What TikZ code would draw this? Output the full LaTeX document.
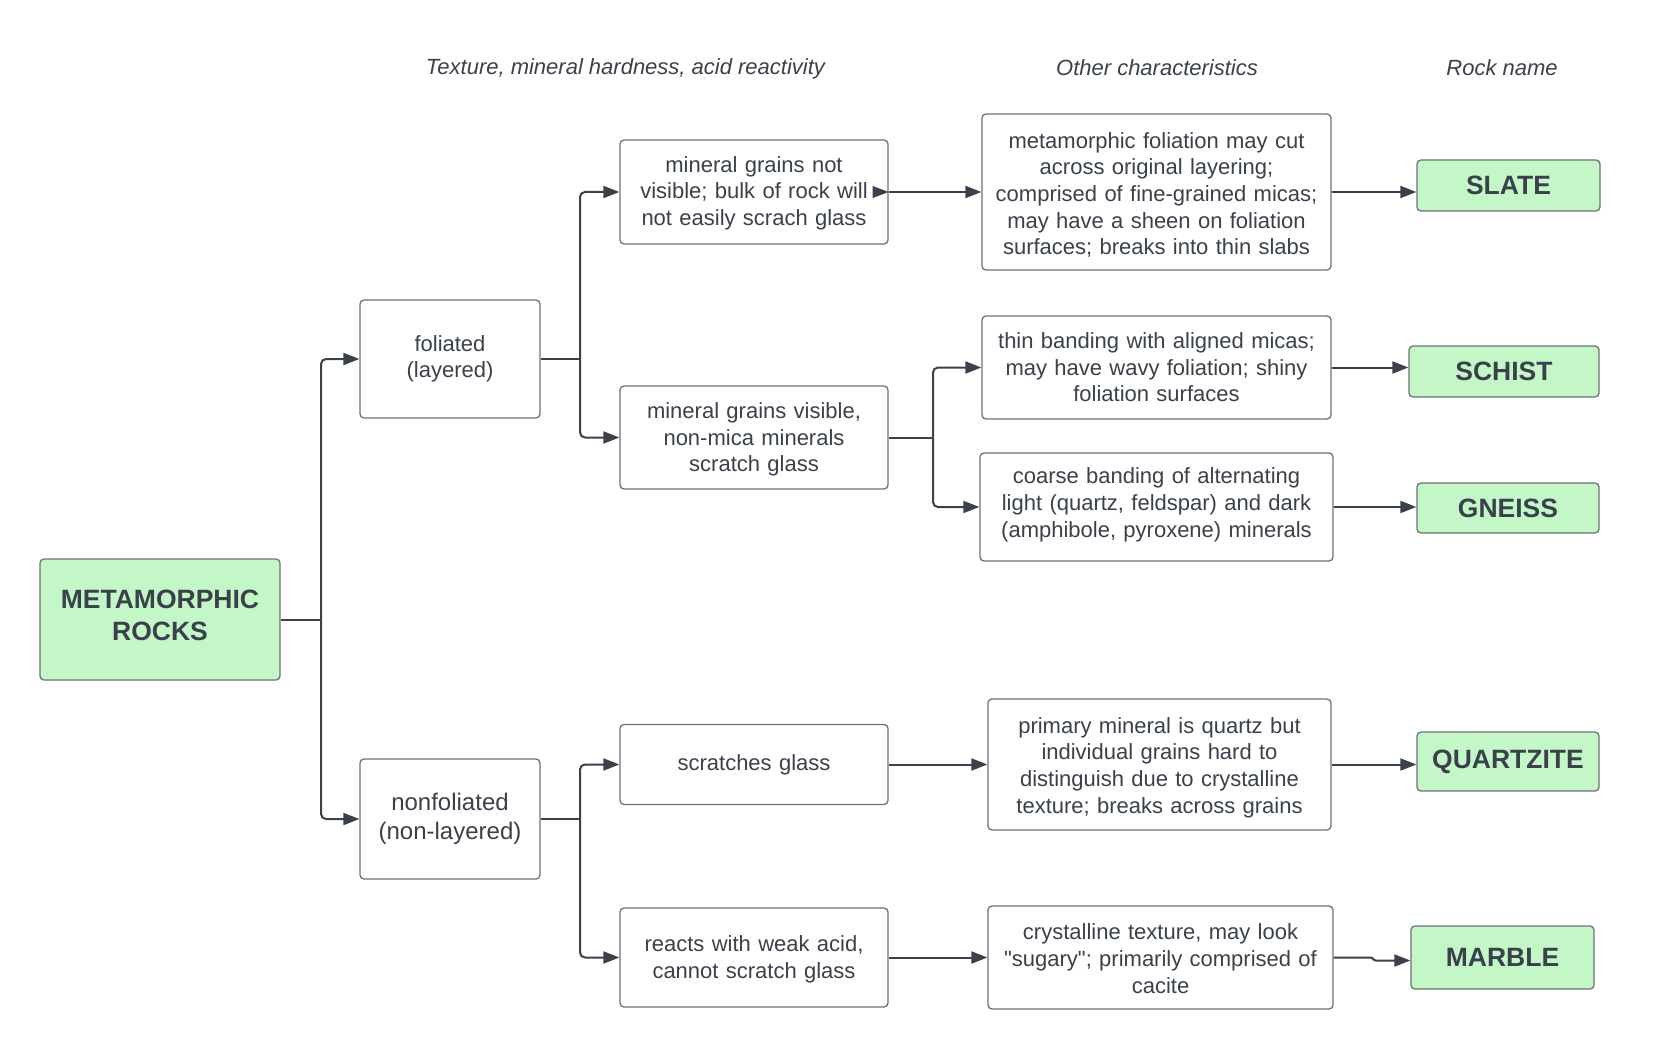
\documentclass[tikz,border=0pt]{standalone}
\usepackage{fontspec}
\setmainfont{Liberation Sans}[Ligatures=TeXOff]
\usetikzlibrary{arrows.meta,calc}
\definecolor{ink}{HTML}{3A414A}
\definecolor{edge}{HTML}{6E7277}
\definecolor{leaf}{HTML}{C3F7C8}
\tikzset{
  box/.style={draw=edge, line width=1.3pt, rounded corners=4pt, fill=white, inner sep=0pt,
    align=center, text=ink, font=\fontsize{22}{26.6}\selectfont},
  rockbox/.style={box, fill=leaf, font=\fontsize{26.5}{32}\selectfont\bfseries},
  tdown/.style={execute at begin node={\rule{0pt}{#1}}},
  tup/.style={execute at end node={\rule[-#1]{0pt}{#1}}},
  hdr/.style={text=ink, font=\fontsize{22}{26}\selectfont\itshape, inner sep=0pt},
  conn/.style={draw=ink, line width=2pt, rounded corners=5pt},
  arr/.style={conn, -{Triangle[length=16pt,width=12pt]}}
}
\begin{document}
\begin{tikzpicture}[x=1pt,y=-1pt]
\useasboundingbox (0,0) rectangle (1662,1051);
% headers
\node[hdr] (h1) at (625.5,68.5) {Texture, mineral hardness, acid reactivity};
\node[hdr] (h2) at (1157,67.5) {Other characteristics};
\node[hdr] (h3) at (1502,67.5) {Rock name};
% root
\node[rockbox, minimum width=240pt, minimum height=121pt, text width=230pt, tup=9pt] (meta) at (160,619.5) {METAMORPHIC\\ROCKS};
% level 1
\node[box, minimum width=180pt, minimum height=118pt, text width=170pt] (fol) at (450,359) {foliated\\(layered)};
\node[box, minimum width=180pt, minimum height=120pt, text width=170pt, font=\fontsize{24}{29}\selectfont] (nonfol) at (450,819) {nonfoliated\\(non-layered)};
% level 2
\node[box, minimum width=268pt, minimum height=104pt, text width=262pt, tdown=18pt] (b1) at (754,192) {mineral grains not\\visible; bulk of rock will\\not easily scrach glass};
\node[box, minimum width=268pt, minimum height=103pt, text width=262pt, tdown=20pt] (b2) at (754,437.5) {mineral grains visible,\\non-mica minerals\\scratch glass};
\node[box, minimum width=268pt, minimum height=80pt, text width=262pt] (b3) at (754,764.5) {scratches glass};
\node[box, minimum width=268pt, minimum height=99pt, text width=262pt, tdown=19pt] (b4) at (754,957.5) {reacts with weak acid,\\cannot scratch glass};
% level 3
\node[box, minimum width=349pt, minimum height=156pt, text width=343pt, tdown=22pt] (c1) at (1156.5,192) {metamorphic foliation may cut\\across original layering;\\comprised of fine-grained micas;\\may have a sheen on foliation\\surfaces; breaks into thin slabs};
\node[box, minimum width=349pt, minimum height=103pt, text width=343pt] (c2) at (1156.5,367.5) {thin banding with aligned micas;\\may have wavy foliation; shiny\\foliation surfaces};
\node[box, minimum width=353pt, minimum height=108pt, text width=347pt, tup=9pt] (c3) at (1156.5,507) {coarse banding of alternating\\light (quartz, feldspar) and dark\\(amphibole, pyroxene) minerals};
\node[box, minimum width=343pt, minimum height=131pt, text width=337pt, tdown=22pt] (c4) at (1159.5,764.5) {primary mineral is quartz but\\individual grains hard to\\distinguish due to crystalline\\texture; breaks across grains};
\node[box, minimum width=345pt, minimum height=103pt, text width=339pt, tdown=18pt] (c5) at (1160.5,957.5) {crystalline texture, may look\\"sugary"; primarily comprised of\\cacite};
% rock names
\node[rockbox, minimum width=183pt, minimum height=51pt, text width=175pt] (slate) at (1508.5,185.5) {SLATE};
\node[rockbox, minimum width=190pt, minimum height=51pt, text width=182pt] (schist) at (1504,371.5) {SCHIST};
\node[rockbox, minimum width=182pt, minimum height=50pt, text width=174pt] (gneiss) at (1508,508) {GNEISS};
\node[rockbox, minimum width=182pt, minimum height=59pt, text width=174pt] (quartz) at (1508,761.5) {QUARTZITE};
\node[rockbox, minimum width=183pt, minimum height=63pt, text width=175pt] (marble) at (1502.5,957.5) {MARBLE};
% junctions
\coordinate (j0) at (321,619.5);
\coordinate (j1) at (580,359);
\coordinate (j2) at (933,437.5);
\coordinate (j3) at (580,819);
% connectors
\draw[conn] (meta.east) -- (j0);
\draw[arr] (j0) |- (fol.west);
\draw[arr] (j0) |- (nonfol.west);
\draw[conn] (fol.east) -- (j1);
\draw[arr] (j1) |- (b1.west);
\draw[arr] (j1) |- (b2.west);
\draw[conn] (b2.east) -- (j2);
\draw[arr] (j2) |- (c2.west);
\draw[arr] (j2) |- (c3.west);
\draw[conn] (nonfol.east) -- (j3);
\draw[arr] (j3) |- (b3.west);
\draw[arr] (j3) |- (b4.west);
\draw[arr] (b1.east) -- (c1.west);
\fill[ink] (b1.east) -- ++(-16,-6) -- ++(0,12) -- cycle;
\draw[arr] (c1.east) -- (c1.east -| slate.west);
\draw[arr] (c2.east) -- (c2.east -| schist.west);
\draw[arr] (c3.east) -- (c3.east -| gneiss.west);
\draw[arr] (b3.east) -- (c4.west);
\draw[arr] (c4.east) -- (c4.east -| quartz.west);
\draw[arr] (b4.east) -- (c5.west);
\draw[arr, rounded corners=1pt] (c5.east) -- ++(38,0) -- ++(3,3) -- ($(marble.west)+(0,3)$);
\end{tikzpicture}
\end{document}
